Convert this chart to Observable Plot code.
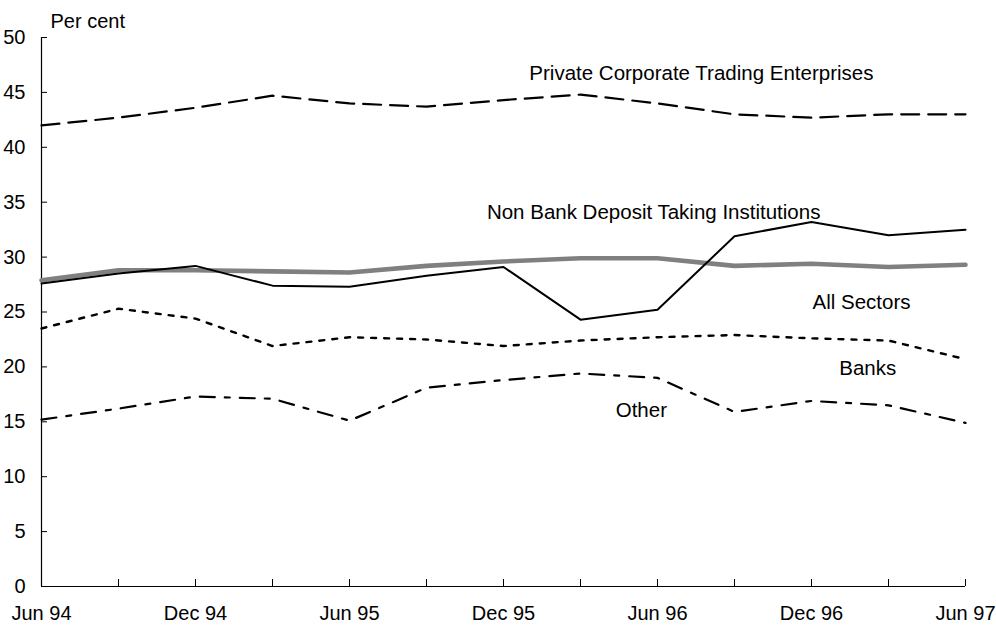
<!DOCTYPE html>
<html><head><meta charset="utf-8">
<script src="https://cdn.jsdelivr.net/npm/d3@7"></script>
<script src="https://cdn.jsdelivr.net/npm/@observablehq/plot@0.6"></script>
<style>body{margin:0;background:#fff;} #chart svg{display:block;}</style>
</head><body><div id="chart"></div>
<script>
const quarters = ["Jun 94","Sep 94","Dec 94","Mar 95","Jun 95","Sep 95","Dec 95","Mar 96","Jun 96","Sep 96","Dec 96","Mar 97","Jun 97"];
const pcte       = [42.0, 42.7, 43.6, 44.7, 44.0, 43.7, 44.3, 44.8, 44.0, 43.0, 42.7, 43.0, 43.0];
const nbdti      = [27.6, 28.5, 29.2, 27.4, 27.3, 28.3, 29.1, 24.3, 25.2, 31.9, 33.2, 32.0, 32.5];
const allSectors = [27.9, 28.8, 28.8, 28.7, 28.6, 29.2, 29.6, 29.9, 29.9, 29.2, 29.4, 29.1, 29.3];
const banks      = [23.5, 25.3, 24.4, 21.9, 22.7, 22.5, 21.9, 22.4, 22.7, 22.9, 22.6, 22.4, 20.7];
const other      = [15.2, 16.2, 17.3, 17.1, 15.1, 18.1, 18.8, 19.4, 19.0, 15.9, 16.9, 16.5, 14.9];
const yTicks = [0, 5, 10, 15, 20, 25, 30, 35, 40, 45, 50];
const seriesLabels = ["Private Corporate Trading Enterprises","Non Bank Deposit Taking Institutions","All Sectors","Banks","Other"];
const labelX = [8.57, 7.95, 10.65, 10.73, 7.79];
const labelY = [46.7, 34.1, 25.9, 19.9, 16.0];

const toRows = (vals) => vals.map((v, i) => ({q: i, v}));
const labelRows = seriesLabels.map((t, i) => ({t, x: labelX[i], y: labelY[i]}));

const chart = Plot.plot({
  width: 996,
  height: 626,
  marginLeft: 41,
  marginRight: 31,
  marginTop: 37,
  marginBottom: 40,
  style: {fontFamily: "'Liberation Sans', Arial, sans-serif", fontSize: "20px", color: "#000", background: "#fff"},
  x: {domain: [0, quarters.length - 1]},
  y: {domain: [0, 50]},
  marks: [
    Plot.axisX({ticks: d3.range(quarters.length), tickSize: -7, tickPadding: 26,
      tickFormat: (i) => i % 2 === 0 ? quarters[i] : "", label: null}),
    Plot.axisY({ticks: yTicks, tickSize: -6, tickPadding: 22, tickFormat: (d) => String(d), label: null}),
    Plot.ruleY([0], {stroke: "#000", strokeWidth: 1.2}),
    Plot.ruleX([0], {stroke: "#000", strokeWidth: 1.2}),
    Plot.line(toRows(allSectors), {x: "q", y: "v", stroke: "#808080", strokeWidth: 4.6}),
    Plot.line(toRows(pcte), {x: "q", y: "v", stroke: "#000", strokeWidth: 2.2, strokeDasharray: "18,9"}),
    Plot.line(toRows(nbdti), {x: "q", y: "v", stroke: "#000", strokeWidth: 2}),
    Plot.line(toRows(banks), {x: "q", y: "v", stroke: "#000", strokeWidth: 2.4, strokeDasharray: "5,8"}),
    Plot.line(toRows(other), {x: "q", y: "v", stroke: "#000", strokeWidth: 2.2, strokeDasharray: "15,10,5,10"}),
    Plot.text(labelRows, {x: "x", y: "y", text: "t", fill: "#000", fontSize: 20.5}),
    Plot.text(["Per cent"], {frameAnchor: "top-left", dx: 9, dy: -24, textAnchor: "start", fill: "#000", fontSize: 20})
  ]
});
document.getElementById("chart").appendChild(chart);
</script>
</body></html>
